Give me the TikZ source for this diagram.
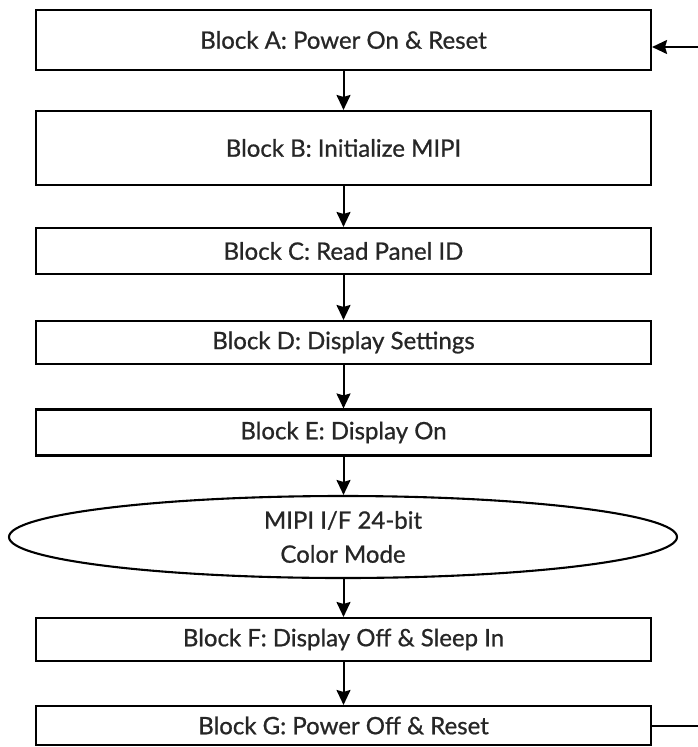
\documentclass[tikz,border=0pt]{standalone}
\usepackage{fontspec}
\setmainfont{Lato}[FakeBold=0.8,AutoFakeBold=0.8]
\usetikzlibrary{arrows.meta,shapes.geometric}
\begin{document}
\begin{tikzpicture}[x=1pt,y=-1pt,
  blk/.style={draw,line width=2.1pt,rectangle,minimum width=615pt,inner sep=0pt,font=\fontsize{24}{29}\selectfont\bfseries,text=black!85},
  oval/.style={draw,line width=2.1pt,ellipse,minimum width=668pt,minimum height=82pt,inner sep=0pt,align=center,font=\fontsize{24}{34}\selectfont\bfseries,text=black!85},
  conn/.style={line width=2pt,-{Stealth[length=15pt,width=14pt,inset=2pt]}},
  plain/.style={line width=2pt}]
\useasboundingbox (0,0) rectangle (698,747);
\node[blk,minimum height=60pt] (A) at (343.5,40) {Block A: Power On \& Reset};
\node[blk,minimum height=74pt] (B) at (343.5,148) {Block B: Initialize MIPI};
\node[blk,minimum height=46pt] (C) at (343.5,251) {Block C: Read Panel ID};
\node[blk,minimum height=43pt] (D) at (343.5,342.5) {Block D: Display Settings};
\node[blk,minimum height=46pt] (E) at (343.5,432.5) {Block E: Display On};
\node[oval] (M) at (343,537) {MIPI I/F 24-bit\\Color Mode};
\node[blk,minimum height=43pt] (F) at (343.5,639.5) {Block F: Display Off \& Sleep In};
\node[blk,minimum height=39pt] (G) at (343.5,725.5) {Block G: Power Off \& Reset};
\coordinate (inA) at (698,47);
\coordinate (outG) at (698,725.5);
\draw[conn] (A.south) -- (B.north);
\draw[conn] (B.south) -- (C.north);
\draw[conn] (C.south) -- (D.north);
\draw[conn] (D.south) -- (E.north);
\draw[conn] (E.south) -- (E.south |- M.north);
\draw[conn] (E.south |- M.south) -- (F.north);
\draw[conn] (F.south) -- (G.north);
\draw[conn] (inA) -- (A.east |- inA);
\draw[plain] (G.east) -- (outG);
\end{tikzpicture}
\end{document}
